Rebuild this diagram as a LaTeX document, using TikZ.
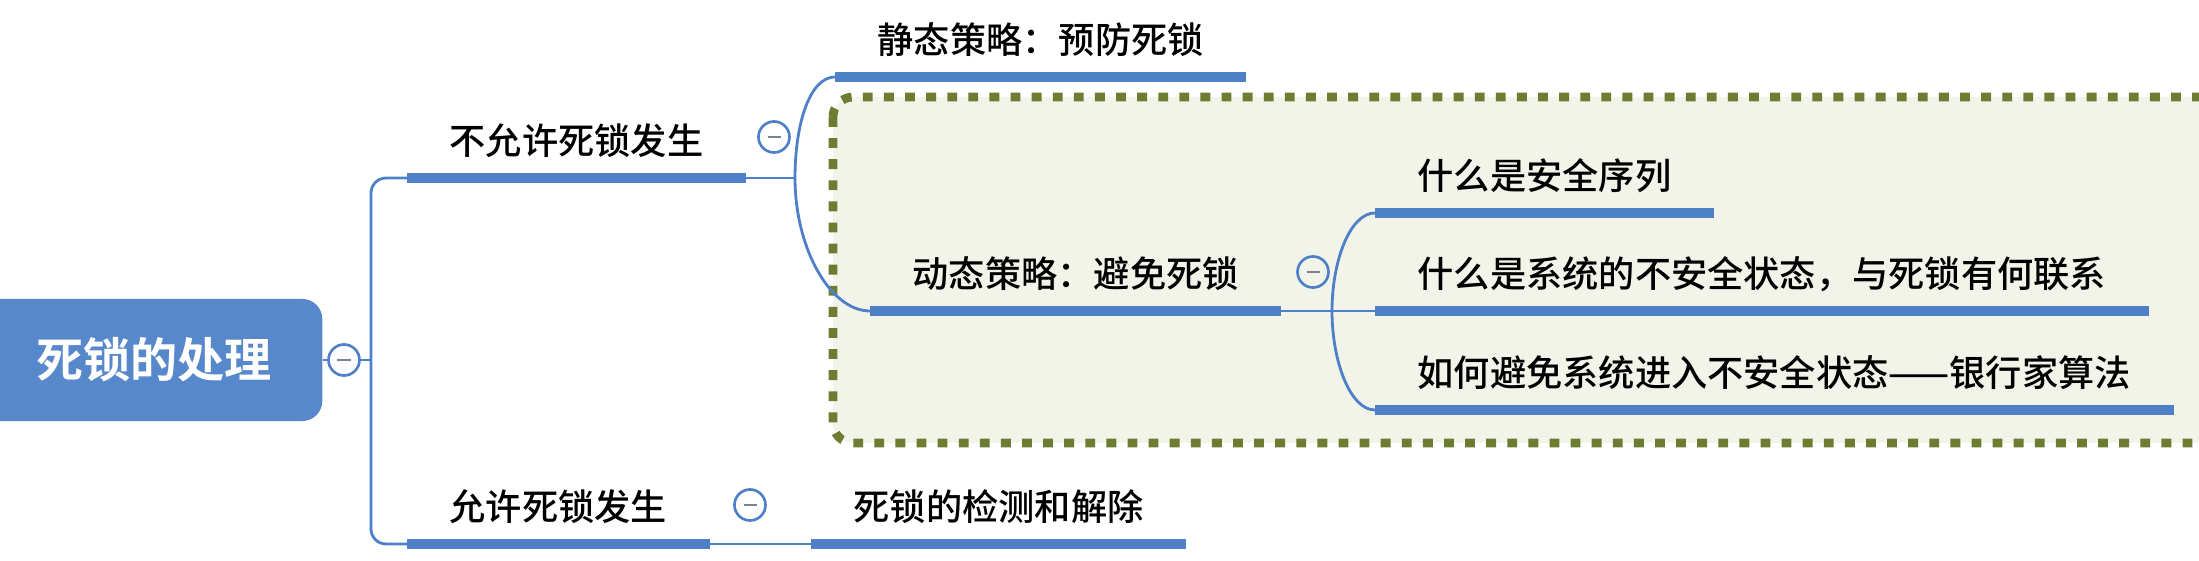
\documentclass[tikz,border=0pt]{standalone}
\usepackage{fontspec}
\setmainfont{Noto Sans CJK SC}[UprightFont=* Medium, BoldFont=* Bold]
\usetikzlibrary{positioning}
\definecolor{mapblue}{RGB}{78,128,200}
\definecolor{rootblue}{RGB}{88,136,204}
\definecolor{olive}{RGB}{108,124,48}
\definecolor{paleolive}{RGB}{242,243,233}
\definecolor{minusgray}{RGB}{120,130,150}
\tikzset{
	x=0.01cm, y=-0.01cm,
	conn/.style={draw=mapblue, line width=0.8pt},
	uline/.style={draw=mapblue, line width=2.6pt},
	topic/.style={anchor=south west, inner xsep=0.42cm, inner ysep=0.18cm,
		text height=0.85em, text depth=0.15em,
		font=\fontsize{10.3pt}{12pt}\selectfont},
	rootbox/.style={rectangle, rounded corners=0.2cm, fill=rootblue, text=white,
		anchor=east, minimum width=3.8cm, minimum height=1.22cm,
		font=\fontsize{13.4pt}{16pt}\selectfont\bfseries},
	fold/.style={circle, draw=mapblue, fill=white, line width=0.75pt,
		minimum size=0.31cm, inner sep=0pt,
		path picture={\draw[minusgray, line width=0.8pt]
			([xshift=-0.065cm]path picture bounding box.center) --
			([xshift=0.065cm]path picture bounding box.center);}},
	frame/.style={draw=olive, fill=paleolive, line width=2.5pt,
		dash pattern=on 2.8pt off 3.2pt, rounded corners=0.2cm},
}
\begin{document}
\begin{tikzpicture}
	\useasboundingbox (0,0) rectangle (2199,561);
	% dotted frame round the dynamic branch
	\draw[frame] (833,97) rectangle (2260,443);

	\node[rootbox] (root) at (323,360) {\hspace{0.44cm}死锁的处理};
	\node[fold] (c0) at (344,360) {};
	\coordinate (j0) at (371,360);

	\node[topic] (t1) at (407,178) {不允许死锁发生};
	\node[fold] (c1) at (774,137) {};
	\coordinate (j1) at (795,178);
	\node[topic] (t2) at (835,77) {静态策略：预防死锁};
	\node[topic] (t3) at (870,311) {动态策略：避免死锁};
	\node[fold, fill=paleolive] (c2) at (1313,272) {};
	\coordinate (j2) at (1332,311);
	\node[topic] (t4) at (1375,213) {什么是安全序列};
	\node[topic] (t5) at (1375,311) {什么是系统的不安全状态，与死锁有何联系};
	\node[topic] (t6) at (1375,410) {如何避免系统进入不安全状态——银行家算法};

	\node[topic] (t7) at (407,544) {允许死锁发生};
	\node[fold] (c3) at (750,505) {};
	\node[topic] (t8) at (811,544) {死锁的检测和解除};

	% connectors
	\draw[conn] (root.east) -- (c0.west);
	\draw[conn] (c0.east) -- (j0);
	\draw[conn, rounded corners=0.15cm] (t1.south west) -| (j0) |- (t7.south west);
	\draw[conn] (t1.south east) -- (j1);
	\draw[conn] (j1) .. controls +(0,-55) and +(-25,0) .. (t2.south west);
	\draw[conn] (j1) .. controls +(0,70) and +(-40,0) .. (t3.south west);
	\draw[conn] (t3.south east) -- (j2) -- (t5.south west);
	\draw[conn] (j2) .. controls +(0,-50) and +(-25,0) .. (t4.south west);
	\draw[conn] (j2) .. controls +(0,50) and +(-25,0) .. (t6.south west);
	\draw[conn] (t7.south east) -- (t8.south west);

	\foreach \i in {1,...,8}
		\draw[uline] (t\i.south west) -- (t\i.south east);
\end{tikzpicture}
\end{document}
